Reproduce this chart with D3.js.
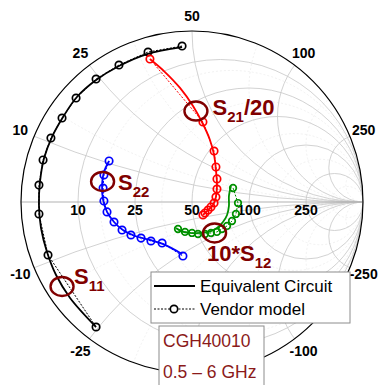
<!DOCTYPE html>
<html>
<head>
<meta charset="utf-8">
<script src="https://cdn.jsdelivr.net/npm/d3@7"></script>
<style>
  body { margin: 0; background: #fff; }
  svg { display: block; font-family: "Liberation Sans", Arial, sans-serif; }
</style>
</head>
<body>
<svg id="chart" width="379" height="385"></svg>
<script>
// Smith chart grid values (normalised to Z0 = 50 ohm)
const majorR = [0.2, 0.5, 1, 2, 5];
const majorX = [0.2, 0.5, 1, 2, 5];
const minorR = [0.3, 0.7, 1.5, 3, 10];
const minorX = [0.3, 0.7, 1.5, 3, 10];
const rLabels = ["10", "25", "50", "100", "250"];
const xLabels = ["10", "25", "50", "100", "250"];

// reflection coefficients [re, im]
const s11Circuit = [[-0.561,-0.731],[-0.713,-0.561],[-0.795,-0.427],[-0.848,-0.292],[-0.883,-0.152],
  [-0.895,-0.018],[-0.889,0.117],[-0.865,0.257],[-0.819,0.380],[-0.754,0.497],[-0.673,0.614],
  [-0.561,0.713],[-0.427,0.795],[-0.263,0.865],[-0.058,0.906]];
const s11Vendor = [[-0.058,0.912],[-0.257,0.877],[-0.427,0.801],[-0.561,0.719],[-0.678,0.608],
  [-0.760,0.491],[-0.825,0.374],[-0.871,0.246],[-0.895,0.099],[-0.895,-0.070],[-0.842,-0.310],
  [-0.561,-0.731]];

const s21Circuit = [[-0.246,0.836],[-0.158,0.760],[-0.070,0.667],[0.006,0.561],[0.064,0.456],
  [0.105,0.363],[0.129,0.275],[0.140,0.187],[0.146,0.099],[0.140,0.029],[0.123,-0.018],
  [0.094,-0.047],[0.064,-0.076]];
const s21Vendor = [[-0.246,0.836],[0.064,0.468],[0.129,0.298],[0.140,0.205],[0.146,0.135],
  [0.146,0.076],[0.140,0.029],[0.129,-0.006],[0.111,-0.029],[0.094,-0.047],[0.076,-0.064],
  [0.064,-0.076]];

const s22Circuit = [[-0.485,0.240],[-0.515,0.175],[-0.526,0.099],[-0.520,0.012],[-0.497,-0.058],
  [-0.456,-0.117],[-0.404,-0.164],[-0.333,-0.199],[-0.246,-0.222],[-0.158,-0.251],[-0.058,-0.304]];
const s22Vendor = [[-0.485,0.240],[-0.515,0.158],[-0.520,0.082],[-0.515,0.006],[-0.497,-0.058],
  [-0.456,-0.117],[-0.409,-0.164],[-0.357,-0.193],[-0.298,-0.211],[-0.240,-0.228],[-0.175,-0.240],
  [-0.053,-0.316]];

const s12Circuit = [[0.228,0.094],[0.216,0.035],[0.216,-0.023],[0.205,-0.076],[0.181,-0.117],
  [0.146,-0.152],[0.099,-0.175],[0.047,-0.181],[-0.012,-0.181],[-0.064,-0.170],[-0.094,-0.152]];
const s12Vendor = [[0.240,0.082],[0.269,-0.006],[0.257,-0.070],[0.234,-0.111],[0.205,-0.140],
  [0.175,-0.158],[0.146,-0.175],[0.111,-0.181],[0.076,-0.187],[0.035,-0.187],[0.000,-0.181],
  [-0.041,-0.175],[-0.082,-0.158]];

const traces = [
  { circuit: s11Circuit, vendor: s11Vendor, color: "#000000", r: 3.7 },
  { circuit: s21Circuit, vendor: s21Vendor, color: "#ff0000", r: 3.7 },
  { circuit: s22Circuit, vendor: s22Vendor, color: "#0000ff", r: 3.7 },
  { circuit: s12Circuit, vendor: s12Vendor, color: "#009000", r: 3.3 }
];

// annotation ellipses (in gamma) and labels
const annotations = [
  { at: [0.023, 0.532], sub: "21", pre: "", post: "/20", lx: 0.12, ly: 0.51 },
  { at: [-0.523, 0.120], sub: "22", pre: "", post: "", lx: -0.433, ly: 0.07 },
  { at: [-0.760, -0.494], sub: "11", pre: "", post: "", lx: -0.690, ly: -0.480 },
  { at: [0.132, -0.181], sub: "12", pre: "10*", post: "", lx: 0.088, ly: -0.345 }
];

const svg = d3.select("#chart");
const cx = 192, cy = 202, R = 171;
const x = d3.scaleLinear().domain([-1, 1]).range([cx - R, cx + R]);
const y = d3.scaleLinear().domain([-1, 1]).range([cy + R, cy - R]);
const k = R; // pixels per unit of gamma

svg.append("clipPath").attr("id", "unit")
  .append("circle").attr("cx", x(0)).attr("cy", y(0)).attr("r", k);

const grid = svg.append("g").attr("clip-path", "url(#unit)").attr("fill", "none");

function drawGrid(rs, xs, stroke, width, dash) {
  rs.forEach(r => {
    grid.append("circle")
      .attr("cx", x(r / (r + 1))).attr("cy", y(0)).attr("r", k / (r + 1))
      .attr("stroke", stroke).attr("stroke-width", width).attr("stroke-dasharray", dash);
  });
  xs.forEach(v => {
    [v, -v].forEach(s => {
      grid.append("circle")
        .attr("cx", x(1)).attr("cy", y(1 / s)).attr("r", k / Math.abs(s))
        .attr("stroke", stroke).attr("stroke-width", width).attr("stroke-dasharray", dash);
    });
  });
}
drawGrid(minorR, minorX, "#ebebeb", 0.7, "2,2");
drawGrid(majorR, majorX, "#c6c6c6", 0.8, null);

grid.append("line")
  .attr("x1", x(-1)).attr("x2", x(1)).attr("y1", y(0)).attr("y2", y(0))
  .attr("stroke", "#a8a8a8").attr("stroke-width", 0.9);

svg.append("circle")
  .attr("cx", x(0)).attr("cy", y(0)).attr("r", k)
  .attr("fill", "none").attr("stroke", "#000").attr("stroke-width", 1.2);

// axis labels (the -50 label falls under the device box / off the page)
const labels = svg.append("g")
  .attr("font-weight", "bold").attr("font-size", 14).attr("text-anchor", "middle")
  .attr("dominant-baseline", "central");

majorR.forEach((r, i) => {
  labels.append("text").attr("x", x((r - 1) / (r + 1))).attr("y", y(0) + 8).text(rLabels[i]);
});
majorX.forEach((v, i) => {
  [1, -1].forEach(sgn => {
    if (sgn < 0 && v === 1) return;
    const ang = sgn * (Math.PI - 2 * Math.atan(v));
    const rr = k + 15;
    labels.append("text")
      .attr("x", x(0) + rr * Math.cos(ang))
      .attr("y", y(0) - rr * Math.sin(ang))
      .text((sgn < 0 ? "-" : "") + xLabels[i]);
  });
});

// traces
const solid = d3.line().x(d => x(d[0])).y(d => y(d[1])).curve(d3.curveCatmullRom);
const straight = d3.line().x(d => x(d[0])).y(d => y(d[1]));

traces.forEach(t => {
  svg.append("path").attr("d", solid(t.circuit))
    .attr("fill", "none").attr("stroke", t.color).attr("stroke-width", 1.8);
  svg.append("path").attr("d", straight(t.vendor))
    .attr("fill", "none").attr("stroke", t.color).attr("stroke-width", 1)
    .attr("stroke-dasharray", "2,1.5");
  svg.append("g").selectAll("circle").data(t.vendor).join("circle")
    .attr("cx", d => x(d[0])).attr("cy", d => y(d[1])).attr("r", t.r)
    .attr("fill", "none").attr("stroke", t.color).attr("stroke-width", 1.7);
});

// annotations
const maroon = "#800000";
annotations.forEach(a => {
  svg.append("ellipse")
    .attr("cx", x(a.at[0])).attr("cy", y(a.at[1])).attr("rx", 11.5).attr("ry", 9.5)
    .attr("fill", "none").attr("stroke", maroon).attr("stroke-width", 2.4);
  const t = svg.append("text")
    .attr("x", x(a.lx)).attr("y", y(a.ly))
    .attr("fill", maroon).attr("font-weight", "bold").attr("font-size", 22);
  t.append("tspan").text(a.pre + "S");
  t.append("tspan").attr("font-size", 15).attr("dy", 7).text(a.sub);
  if (a.post) t.append("tspan").attr("dy", -7).text(a.post);
});

// legend
const lg = svg.append("g");
lg.append("rect").attr("x", 151).attr("y", 272).attr("width", 199).attr("height", 51)
  .attr("fill", "#fff").attr("stroke", "#8c8c8c").attr("stroke-width", 1);
lg.append("line").attr("x1", 154).attr("x2", 195).attr("y1", 286).attr("y2", 286)
  .attr("stroke", "#000").attr("stroke-width", 2);
lg.append("line").attr("x1", 154).attr("x2", 195).attr("y1", 309).attr("y2", 309)
  .attr("stroke", "#000").attr("stroke-width", 1).attr("stroke-dasharray", "2,1.5");
lg.append("circle").attr("cx", 174).attr("cy", 309).attr("r", 3.7)
  .attr("fill", "#fff").attr("stroke", "#000").attr("stroke-width", 1.7);
lg.selectAll("text.lg").data(["Equivalent Circuit", "Vendor model"]).join("text")
  .attr("x", 200).attr("y", (d, i) => 286 + i * 23)
  .attr("dominant-baseline", "central").attr("font-size", 17).attr("fill", "#000")
  .text(d => d);

// device box
const box = svg.append("g");
box.append("rect").attr("x", 159).attr("y", 326).attr("width", 105).attr("height", 70)
  .attr("fill", "#fff").attr("stroke", "#8c8c8c").attr("stroke-width", 1);
box.selectAll("text").data(["CGH40010", "0.5 \u2013 6 GHz"]).join("text")
  .attr("x", 163).attr("y", (d, i) => 347 + i * 31)
  .attr("font-size", 17.5).attr("fill", "#8b1a1a")
  .text(d => d);
</script>
</body>
</html>
